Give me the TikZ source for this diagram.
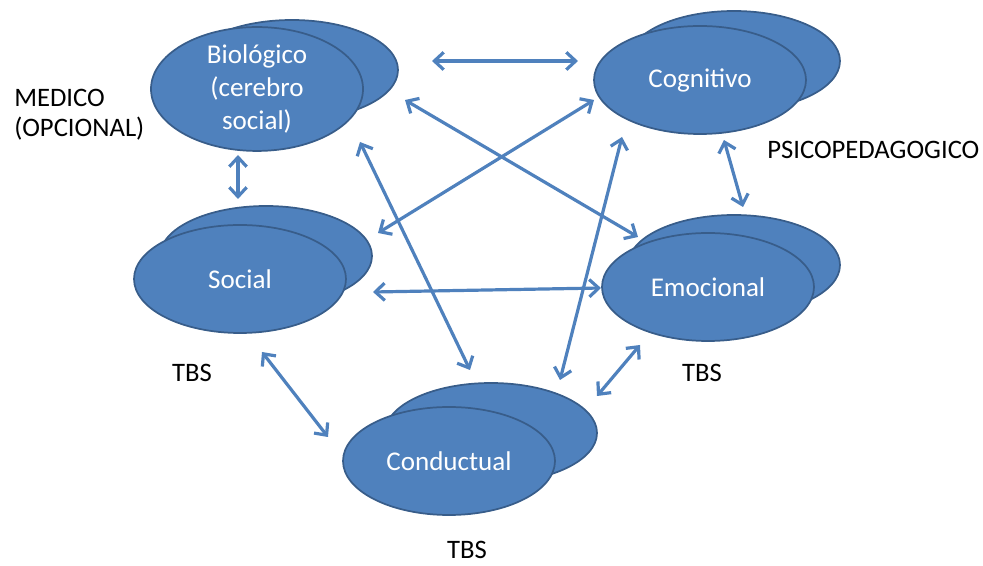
\documentclass[tikz,border=0pt]{standalone}
\usepackage{fontspec}
\setmainfont{Carlito}
\usetikzlibrary{shapes.geometric,arrows.meta}
\definecolor{blobfill}{HTML}{4F81BD}
\definecolor{blobedge}{HTML}{385D8A}

\begin{document}
\begin{tikzpicture}[x=0.75pt, y=-0.75pt,
    back/.style={ellipse, draw=blobedge, fill=blobfill, line width=1.3pt, minimum width=159pt, minimum height=75pt, inner sep=0pt},
    front/.style={back, minimum height=81pt, text=white, align=center, font=\fontsize{20.3}{24.4}\selectfont},
    link/.style={draw=blobfill, line width=2.4pt, {Straight Barb[length=7pt,width=13pt]}-{Straight Barb[length=7pt,width=13pt]}},
    note/.style={font=\fontsize{20}{22.5}\selectfont, align=left, inner sep=0pt}]
            \useasboundingbox (0,0) rectangle (983,566);
            % ellipses behind
            \draw (292, 70) node[back](bio2){} ;
            \draw (734, 61) node[back](cog2){} ;
            \draw (266, 256) node[back](soc2){} ;
            \draw (734, 265) node[back](emo2){} ;
            \draw (491, 433) node[back](con2){} ;
            % ellipses in front
            \draw (257, 89) node[front](bio){Biológico\\(cerebro\\social)} ;
            \draw (700, 80) node[front](cog){Cognitivo} ;
            \draw (240, 279) node[front](soc){Social} ;
            \draw (708, 287) node[front](emo){Emocional} ;
            \draw (449, 461) node[front](con){Conductual} ;
            % notes
            \draw (14, 115) node[note, anchor=west](medico){MEDICO\\(OPCIONAL)} ;
            \draw (767, 150) node[note, anchor=west](psico){PSICOPEDAGOGICO} ;
            \draw (192, 373) node[note](tbs1){TBS} ;
            \draw (702, 373) node[note](tbs2){TBS} ;
            \draw (467, 550) node[note](tbs3){TBS} ;
            % arrow ends
            \coordinate (bc1) at (432, 61) ;   \coordinate (bc2) at (578, 61) ;
            \coordinate (bs1) at (238, 155) ;  \coordinate (bs2) at (238, 199) ;
            \coordinate (be1) at (405, 100) ;  \coordinate (be2) at (638, 237) ;
            \coordinate (bk1) at (360, 142) ;  \coordinate (bk2) at (470, 370) ;
            \coordinate (cs1) at (594, 100) ;  \coordinate (cs2) at (378, 233) ;
            \coordinate (ck1) at (622, 137) ;  \coordinate (ck2) at (560, 380) ;
            \coordinate (ce1) at (724, 140) ;  \coordinate (ce2) at (743, 207) ;
            \coordinate (se1) at (373, 292) ;  \coordinate (se2) at (601, 288) ;
            \coordinate (sk1) at (262, 352) ;  \coordinate (sk2) at (328, 437) ;
            \coordinate (ek1) at (640, 345) ;  \coordinate (ek2) at (597, 396) ;
            % Arrows
            \draw[link] (bc1) -- (bc2) ;
            \draw[link] (bs1) -- (bs2) ;
            \draw[link] (be1) -- (be2) ;
            \draw[link] (bk1) -- (bk2) ;
            \draw[link] (cs1) -- (cs2) ;
            \draw[link] (ck1) -- (ck2) ;
            \draw[link] (ce1) -- (ce2) ;
            \draw[link] (se1) -- (se2) ;
            \draw[link] (sk1) -- (sk2) ;
            \draw[link] (ek1) -- (ek2) ;
\end{tikzpicture}
\end{document}
